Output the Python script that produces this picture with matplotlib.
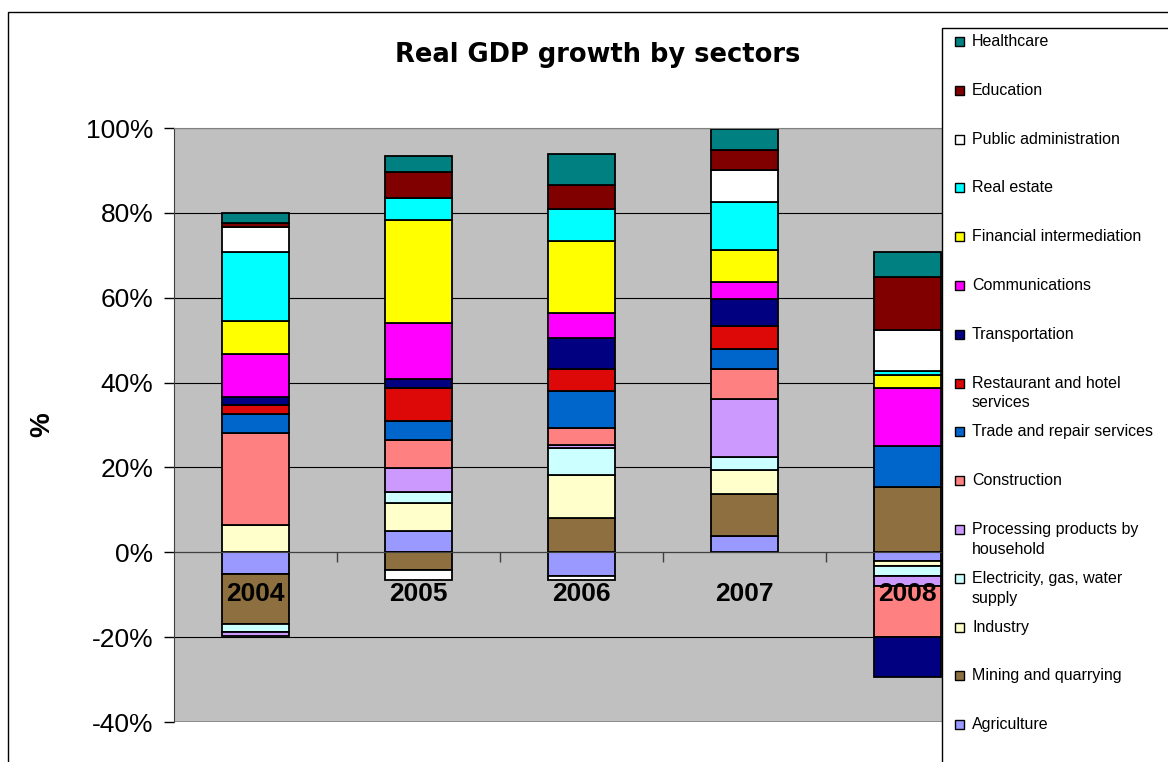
import matplotlib.pyplot as plt
import matplotlib.ticker as mticker
from matplotlib.patches import Rectangle

plt.rcParams['font.family'] = ['Liberation Sans', 'DejaVu Sans']
plt.rcParams['axes.unicode_minus'] = False

years = ['2004', '2005', '2006', '2007', '2008']

# growth contributions, % (series order = stacking order, bottom first)
agriculture = [-5.1, 5.1, -5.5, 3.9, -2.0]
mining = [-11.7, -4.2, 8.0, 9.8, 15.3]
industry = [6.5, 6.5, 10.2, 5.7, -1.2]
electricity = [-1.9, 2.7, 6.4, 3.0, -2.5]
processing = [-1.0, 5.6, 0.8, 13.7, -2.2]
construction = [21.5, 6.6, 4.0, 7.1, -12.0]
trade = [4.5, 4.5, 8.7, 4.6, 9.7]
restaurant = [2.1, 7.7, 5.1, 5.6, 0.0]
transport = [2.1, 2.1, 7.2, 6.2, -9.6]
communications = [10.0, 13.2, 6.0, 4.0, 13.7]
financial = [7.9, 24.4, 16.9, 7.7, 3.2]
real_estate = [16.1, 5.1, 7.6, 11.2, 0.9]
public_admin = [5.9, -2.4, -1.0, 7.7, 9.6]
education = [0.9, 6.1, 5.7, 4.5, 12.6]
healthcare = [2.4, 3.7, 7.2, 5.1, 5.7]

labels = ['Agriculture', 'Mining and quarrying', 'Industry',
          'Electricity, gas, water\nsupply', 'Processing products by\nhousehold',
          'Construction', 'Trade and repair services', 'Restaurant and hotel\nservices',
          'Transportation', 'Communications', 'Financial intermediation',
          'Real estate', 'Public administration', 'Education', 'Healthcare']
series = [agriculture, mining, industry, electricity, processing, construction,
          trade, restaurant, transport, communications, financial, real_estate,
          public_admin, education, healthcare]
colors = ['#9999FF', '#8E7040', '#FFFFCC', '#CCFFFF', '#CC99FF', '#FF8080',
          '#0066CC', '#DD0808', '#000080', '#FF00FF', '#FFFF00', '#00FFFF',
          '#FFFFFF', '#800000', '#008080']

W, H = 1168, 762
fig = plt.figure(figsize=(W / 100, H / 100), dpi=100)

# chart area border
fig.patches.append(Rectangle((8 / W, -0.1), 1.2, 1 - 12 / H + 0.1, transform=fig.transFigure,
                             fill=False, edgecolor='black', linewidth=1.0))

ax = fig.add_axes([174 / W, 1 - 722 / H, 815 / W, 594 / H])
ax.set_facecolor('#C0C0C0')
ax.set_axisbelow(True)

x = list(range(len(years)))
pos = [0.0] * len(years)
neg = [0.0] * len(years)
for vals, col in zip(series, colors):
    bottoms = []
    for i, v in enumerate(vals):
        if v >= 0:
            bottoms.append(pos[i])
            pos[i] += v
        else:
            bottoms.append(neg[i])
            neg[i] += v
    ax.bar(x, vals, bottom=bottoms, width=0.41, color=col,
           edgecolor='black', linewidth=1.3, zorder=2)

ax.set_xlim(-0.5, 4.5)
ax.set_ylim(-40, 100)
ax.set_yticks(range(-40, 101, 20))
ax.yaxis.set_major_formatter(mticker.PercentFormatter(decimals=0))
ax.tick_params(axis='y', labelsize=19, length=7, width=1, pad=8)
ax.grid(axis='y', color='black', linewidth=0.8)

ax.spines['bottom'].set_position(('data', 0))
ax.spines['bottom'].set_color('#404040')
ax.spines['left'].set_color('#404040')
ax.spines['top'].set_color('#808080')
ax.spines['right'].set_visible(False)
ax.set_xticks([0.5, 1.5, 2.5, 3.5])
ax.set_xticklabels([])
ax.tick_params(axis='x', length=7, width=1, color='#404040')
ax.axhline(-40, color='#808080', linewidth=1.8, zorder=1)

for i, yr in enumerate(years):
    ax.annotate(yr, xy=(i, 0), xytext=(0, -30), textcoords='offset points',
                ha='center', va='center', fontsize=19, fontweight='bold', zorder=5)

ax.set_ylabel('%', fontsize=20, fontweight='bold', labelpad=22)

fig.text(598 / W, 1 - 55 / H, 'Real GDP growth by sectors', ha='center', va='center',
         fontsize=18.5, fontweight='bold', family='DejaVu Sans')

# legend (drawn manually, Excel style: last series on top)
fig.patches.append(Rectangle((942 / W, -0.1), 0.5, 1 - 28 / H + 0.1, transform=fig.transFigure,
                             facecolor='white', edgecolor='black', linewidth=1.0, zorder=10))
for k, (lab, col) in enumerate(zip(labels[::-1], colors[::-1])):
    yc = 41 + 48.8 * k
    fig.patches.append(Rectangle((955 / W, 1 - (yc + 5) / H), 9 / W, 9 / H,
                                 transform=fig.transFigure, facecolor=col,
                                 edgecolor='black', linewidth=1.0, zorder=11))
    fig.text(972 / W, 1 - (yc - 7) / H, lab, ha='left', va='top', fontsize=11.5,
             linespacing=1.4, zorder=12)

plt.savefig('out.png', dpi=100)
